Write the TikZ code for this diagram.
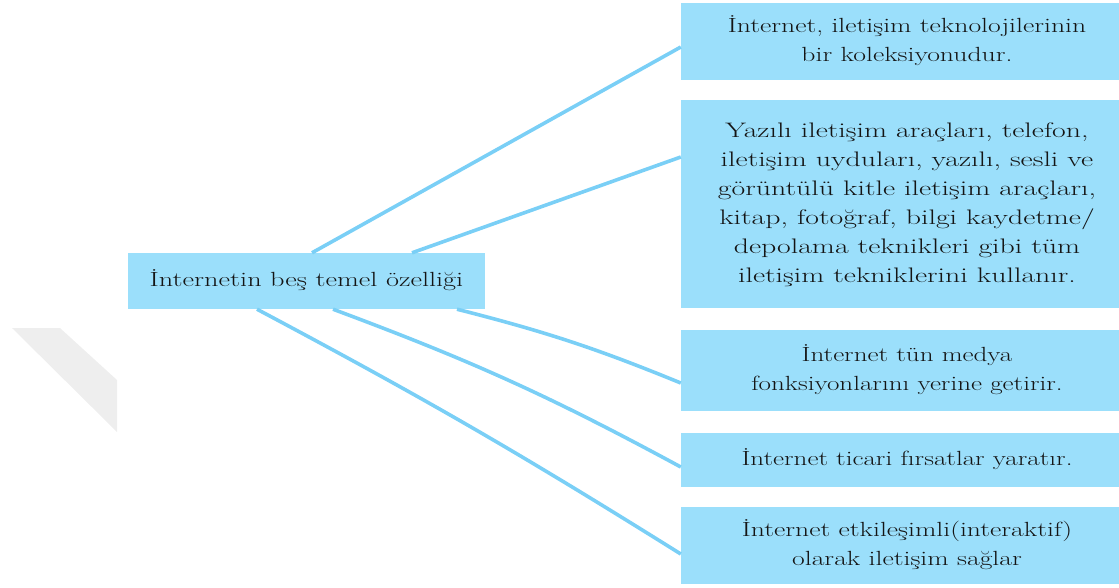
\documentclass[tikz,border=0pt]{standalone}
\usepackage{graphicx}
\definecolor{boxblue}{RGB}{155,223,251}
\definecolor{lineblue}{RGB}{122,207,246}
\definecolor{wmgray}{RGB}{238,238,238}
\newcommand{\widetext}[2][1.33]{\scalebox{#1}[1]{\begin{tabular}{@{}c@{}}#2\end{tabular}}}
\begin{document}
\begin{tikzpicture}[x=1pt,y=-1pt,
  box/.style={rectangle, fill=boxblue, inner sep=0pt, align=center,
    font=\fontsize{20.5}{29}\selectfont, text=black!92},
  link/.style={draw=lineblue, line width=3.6pt}]
\useasboundingbox (0,0) rectangle (1119,587);
% faint watermark shape
\fill[wmgray] (12,328) -- (60,328) -- (117,380) -- (117,432) -- cycle;
% central node
\node[box, minimum width=357pt, minimum height=56pt] (c) at (306.5,281)
  {\widetext[1.38]{İnternetin beş temel özelliği}};
% right boxes
\node[box, minimum width=452pt, minimum height=77pt] (b1) at (907,41.5)
  {\widetext[1.35]{İnternet, iletişim teknolojilerinin\\bir koleksiyonudur.}};
\node[box, minimum width=452pt, minimum height=208pt, font=\fontsize{21}{29}\selectfont] (b2) at (907,204)
  {\widetext[1.42]{Yazılı iletişim araçları, telefon,\\iletişim uyduları, yazılı, sesli ve\\görüntülü kitle iletişim araçları,\\kitap, fotoğraf, bilgi kaydetme/\\depolama teknikleri gibi tüm\\iletişim tekniklerini kullanır.}};
\node[box, minimum width=452pt, minimum height=81pt] (b3) at (907,370.5)
  {\widetext[1.32]{İnternet tün medya\\fonksiyonlarını yerine getirir.}};
\node[box, minimum width=452pt, minimum height=54pt] (b4) at (907,460)
  {\widetext[1.32]{İnternet ticari fırsatlar yaratır.}};
\node[box, minimum width=452pt, minimum height=77pt] (b5) at (907,545.5)
  {\widetext[1.35]{İnternet etkileşimli(interaktif)\\olarak iletişim sağlar}};
% connector start points on the central node
\coordinate (s1) at (c.north -| 312,0);
\coordinate (s2) at (c.north -| 412,0);
\coordinate (s3) at (c.south -| 457,0);
\coordinate (s4) at (c.south -| 333,0);
\coordinate (s5) at (c.south -| 257,0);
\draw[link] (s1) -- ([yshift=-5.5pt]b1.west);
\draw[link] (s2) -- ([yshift=47pt]b2.west);
\draw[link] (s3) to[bend left=4] ([yshift=-12.5pt]b3.west);
\draw[link] (s4) to[bend left=4] ([yshift=-7pt]b4.west);
\draw[link] (s5) to[bend left=2] ([yshift=-8.5pt]b5.west);
\end{tikzpicture}
\end{document}
